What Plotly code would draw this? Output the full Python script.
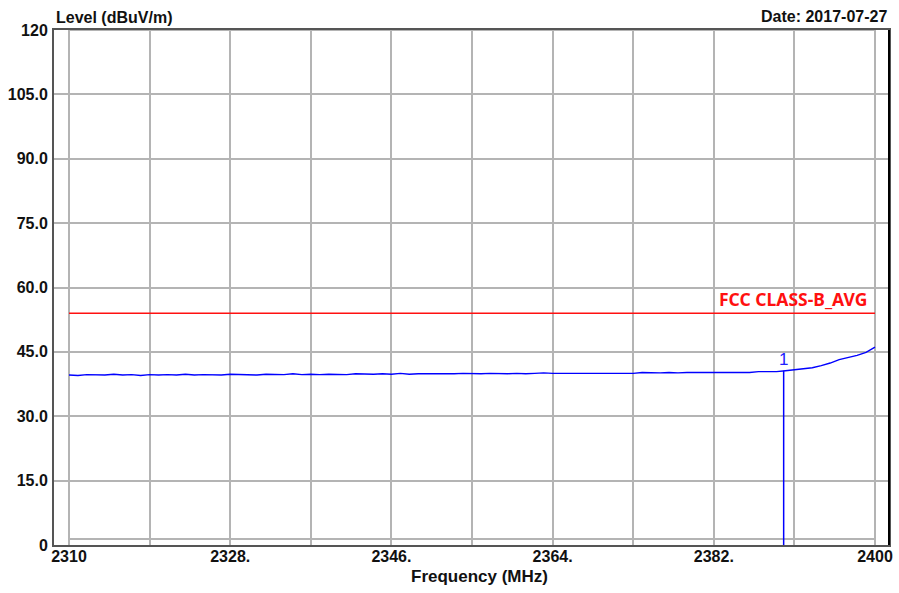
import plotly.graph_objects as go

# measured level, 1 MHz steps from 2310 to 2400 MHz
freq_mhz = list(range(2310, 2401))
level_dbuv = [
    39.6, 39.5, 39.7, 39.6, 39.6, 39.8, 39.6, 39.7, 39.5, 39.7, 39.6,
    39.7, 39.6, 39.8, 39.6, 39.7, 39.7, 39.6, 39.8, 39.7, 39.7,
    39.6, 39.8, 39.7, 39.7, 39.9, 39.7, 39.8, 39.7, 39.8, 39.8,
    39.7, 39.9, 39.8, 39.8, 39.9, 39.8, 40.0, 39.8, 39.9, 39.9,
    39.8, 39.9, 39.9, 40.0, 39.9, 39.9, 40.0, 39.9, 39.9, 40.0,
    39.9, 40.0, 40.1, 40.0, 40.0, 40.0, 40.1, 40.0, 40.1, 40.0,
    40.1, 40.1, 40.0, 40.2, 40.1, 40.1, 40.2, 40.1, 40.2, 40.2,
    40.2, 40.3, 40.2, 40.3, 40.3, 40.2, 40.4, 40.4, 40.4, 40.6,
    40.8, 41.0, 41.3, 41.8, 42.4, 43.2, 43.7, 44.2, 44.9, 46.1,
]

limit_freq = [2310, 2400]
limit_level = [54.0, 54.0]
limit_name = "FCC CLASS-B_AVG"

marker_freq = 2389.8
marker_level = 40.6
marker_label = "1"

x_grid = [2310, 2319, 2328, 2337, 2346, 2355, 2364, 2373, 2382, 2391, 2400]
x_text = ["2310", "", "2328.", "", "2346.", "", "2364.", "", "2382.", "", "2400"]
y_grid = [0, 15, 30, 45, 60, 75, 90, 105, 120]
y_text = ["0", "15.0", "30.0", "45.0", "60.0", "75.0", "90.0", "105.0", "120"]

font = "Liberation Sans, Arial, sans-serif"
txt = "#111111"

fig = go.Figure()
fig.add_trace(go.Scatter(
    x=limit_freq, y=limit_level, mode="lines",
    line=dict(color="#ff1010", width=1.5), hoverinfo="skip",
))
fig.add_trace(go.Scatter(
    x=freq_mhz, y=level_dbuv, mode="lines",
    line=dict(color="#0000ff", width=1.4),
))
fig.add_trace(go.Scatter(
    x=[marker_freq, marker_freq], y=[0, marker_level], mode="lines",
    line=dict(color="#0000ff", width=1.5),
))

# inner grid border
fig.add_shape(type="rect", x0=2310, x1=2400, y0=1.4, y1=120,
              line=dict(color="#b4b4b4", width=2), layer="below")
# right frame edge is black
fig.add_shape(type="line", xref="paper", yref="paper", x0=1, x1=1, y0=0, y1=1,
              line=dict(color="#000000", width=2))

fig.add_annotation(x=2399.3, y=54, text="<b>%s</b>" % limit_name, showarrow=False,
                   xanchor="right", yanchor="bottom", yshift=0,
                   font=dict(family="Noto Sans, sans-serif", size=17.5, color="#ff1010"))
fig.add_annotation(x=marker_freq, y=marker_level, text=marker_label, showarrow=False,
                   xanchor="center", yanchor="bottom", yshift=0,
                   font=dict(family=font, size=17, color="#2020ff"))
fig.add_annotation(xref="paper", yref="paper", x=0, y=1.024, text="<b>Level (dBuV/m)</b>",
                   showarrow=False, xanchor="left", yanchor="middle",
                   font=dict(family=font, size=16, color=txt))
fig.add_annotation(xref="paper", yref="paper", x=1, y=1.027, text="<b>Date: 2017-07-27</b>",
                   showarrow=False, xanchor="right", yanchor="middle",
                   font=dict(family=font, size=16, color=txt))
fig.add_annotation(xref="paper", yref="paper", x=0.509, y=-0.062, text="<b>Frequency (MHz)</b>",
                   showarrow=False, xanchor="center", yanchor="middle",
                   font=dict(family=font, size=17, color=txt))

fig.update_xaxes(
    range=[2308.325, 2401.563], tickvals=x_grid,
    ticktext=["<b>%s</b>" % t if t else "" for t in x_text],
    showgrid=True, gridcolor="#b4b4b4", gridwidth=2, zeroline=False,
    showline=True, linecolor="#555555", linewidth=2, mirror=True,
    ticks="", ticklabelstandoff=-4, tickfont=dict(family=font, size=16, color=txt),
    automargin=False,
)
fig.update_yaxes(
    range=[0, 120], tickvals=y_grid, ticktext=["<b>%s</b>" % t for t in y_text],
    showgrid=True, gridcolor="#b4b4b4", gridwidth=2, zeroline=False,
    showline=True, linecolor="#555555", linewidth=2, mirror=True,
    ticks="", ticklabelstandoff=1, tickfont=dict(family=font, size=16, color=txt),
    automargin=False,
)
fig.update_layout(
    width=899, height=593,
    margin=dict(l=54, r=10, t=30, b=48),
    paper_bgcolor="white", plot_bgcolor="white",
    showlegend=False,
)
# drop the browser's default page margin so the figure sits at the window corner
fig.write_html(
    "out.html",
    config={"displayModeBar": False},
    post_script="document.body.style.margin='0';",
)
